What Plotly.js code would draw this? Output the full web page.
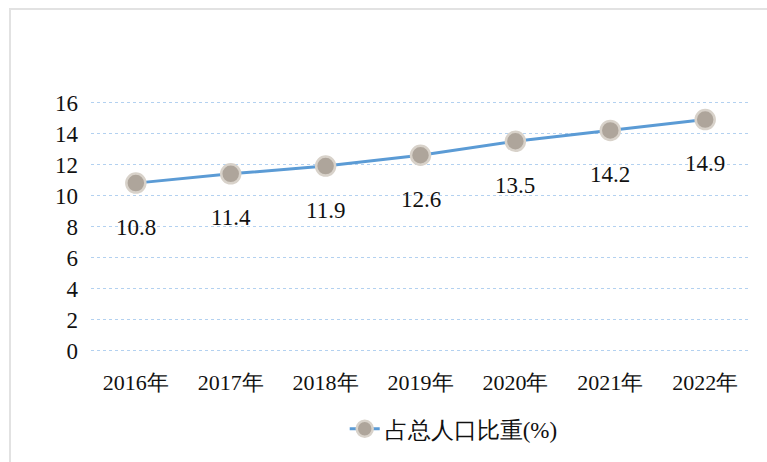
<!DOCTYPE html>
<html>
<head>
<meta charset="utf-8">
<script src="https://cdn.plot.ly/plotly-3.0.1.min.js"></script>
<style>
html,body{margin:0;padding:0;background:#fff;font-family:'Liberation Serif',serif;}
#wrap{position:relative;width:767px;height:462px;overflow:hidden;}
#chart{width:767px;height:462px;}
#frame{position:absolute;left:9px;top:8px;width:780px;height:470px;border-left:2px solid #e2e2e2;border-top:2px solid #e2e2e2;pointer-events:none;}
#preload{position:absolute;left:0;top:0;font-family:'Liberation Serif',serif;font-size:20px;color:#fff;pointer-events:none;}
svg text{font-family:'Liberation Serif',serif !important;}
</style>
</head>
<body>
<div id="wrap"><div id="preload">&nbsp;</div><div id="chart"></div><div id="frame"></div></div>
<script>
const years = ['2016年','2017年','2018年','2019年','2020年','2021年','2022年'];
const share = [10.8, 11.4, 11.9, 12.6, 13.5, 14.2, 14.9];
const seriesName = '占总人口比重(%)';
const yTicks = [0,2,4,6,8,10,12,14,16];

const FONT = 'Liberation Serif';

// force layout so the font is resolved before Plotly measures its text
void document.getElementById('preload').offsetWidth;

const trace = {
  x: years, y: share, name: seriesName, type: 'scatter', mode: 'lines+markers',
  line: {color: '#5b9bd5', width: 3},
  marker: {size: 19, color: '#aea59b', line: {color: '#d8d2ca', width: 2.5}},
  cliponaxis: false
};

const annotations = years.map((c, i) => ({
  x: c, y: share[i], xref: 'x', yref: 'y', text: share[i].toFixed(1),
  showarrow: false, yshift: -44, font: {family: FONT, size: 23, color: '#111'}
}));

const layout = {
  width: 767, height: 462,
  margin: {l: 91, r: 17, t: 101, b: 94},
  paper_bgcolor: '#fff', plot_bgcolor: '#fff',
  font: {family: FONT, size: 21, color: '#111'},
  showlegend: true,
  legend: {orientation: 'h', x: 0.385, xanchor: 'left', y: -0.22, yanchor: 'top',
           font: {family: FONT, size: 23, color: '#111'}},
  xaxis: {type: 'category', showgrid: false, zeroline: false, showline: false, automargin: false,
          ticks: '', ticklabelstandoff: 15, tickfont: {family: FONT, size: 22, color: '#111'}},
  yaxis: {range: [-0.1, 16.1], tickvals: yTicks, ticktext: yTicks.map(String), automargin: false,
          showgrid: true, gridcolor: '#b3d1f0', gridwidth: 1.5, griddash: 'dot',
          zeroline: false, showline: false, ticks: '', ticklabelstandoff: 12,
          tickfont: {family: FONT, size: 23, color: '#111'}},
  annotations: annotations
};

Plotly.newPlot('chart', [trace], layout, {displayModeBar: false, staticPlot: true});
</script>
</body>
</html>
